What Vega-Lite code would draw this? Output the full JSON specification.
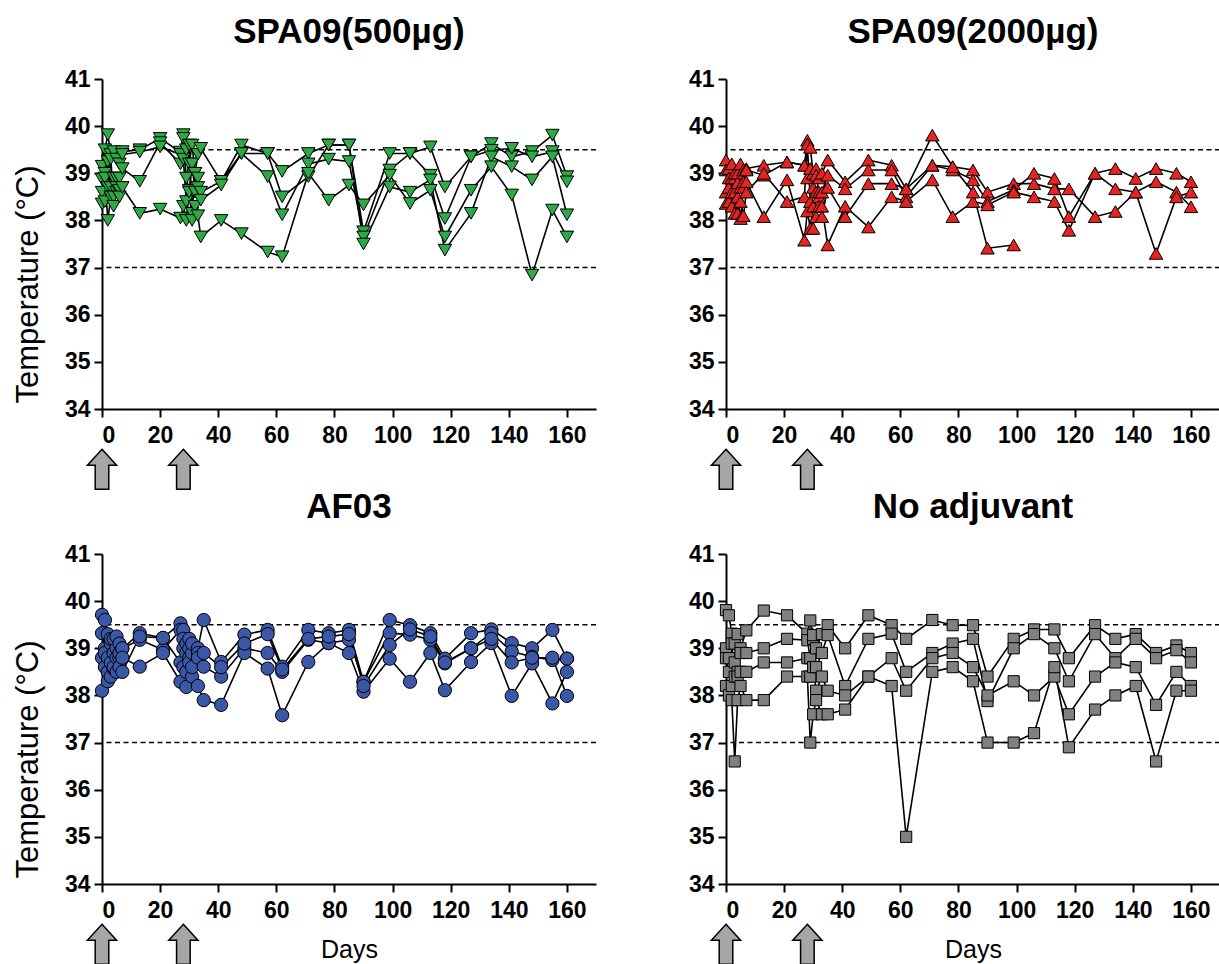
{
"$schema": "https://vega.github.io/schema/vega-lite/v6.json",
"padding": {"left": 12, "top": 15, "right": 0, "bottom": 0},
"config": {
  "font": "Liberation Sans",
  "view": {"stroke": null},
  "axis": {"grid": false, "domainColor": "black", "domainWidth": 2, "tickColor": "black", "tickWidth": 2, "tickSize": 8, "labelFont": "Liberation Sans", "labelFontWeight": "bold", "labelFontSize": 23, "labelColor": "black", "labelPadding": 4, "titleFont": "Liberation Sans", "titleFontWeight": "normal", "titleColor": "black"},
  "axisX": {"labelPadding": 7},
  "title": {"font": "Liberation Sans", "fontSize": 35, "fontWeight": "bold", "color": "black", "anchor": "middle", "frame": "group", "offset": 18}
},
"datasets": {
  "refs": [{"y": 37}, {"y": 39.5}],
  "arrows": [{"d": 0}, {"d": 28}],
  "p1": [
{"a":1,"d":0,"t":39.15},{"a":2,"d":0,"t":38.87},{"a":3,"d":0,"t":38.6},{"a":4,"d":0,"t":38.35},
{"a":1,"d":1,"t":39.5},{"a":2,"d":1,"t":39.0},{"a":3,"d":1,"t":38.4},{"a":4,"d":1,"t":38.9},
{"a":1,"d":2,"t":39.82},{"a":2,"d":2,"t":39.25},{"a":3,"d":2,"t":38.7},{"a":4,"d":2,"t":38.0},
{"a":1,"d":3,"t":39.4},{"a":2,"d":3,"t":38.7},{"a":3,"d":3,"t":39.3},{"a":4,"d":3,"t":38.5},
{"a":1,"d":4,"t":39.46},{"a":2,"d":4,"t":38.9},{"a":3,"d":4,"t":38.5},{"a":4,"d":4,"t":38.3},
{"a":1,"d":5,"t":39.3},{"a":2,"d":5,"t":38.6},{"a":3,"d":5,"t":38.9},{"a":4,"d":5,"t":38.7},
{"a":1,"d":6,"t":39.2},{"a":2,"d":6,"t":38.9},{"a":3,"d":6,"t":38.64},{"a":4,"d":6,"t":38.5},
{"a":1,"d":7,"t":39.46},{"a":2,"d":7,"t":39.1},{"a":3,"d":7,"t":39.4},{"a":4,"d":7,"t":38.7},
{"a":1,"d":13,"t":39.5},{"a":2,"d":13,"t":38.83},{"a":3,"d":13,"t":39.45},{"a":4,"d":13,"t":38.15},
{"a":1,"d":20,"t":39.74},{"a":2,"d":20,"t":39.65},{"a":3,"d":20,"t":39.56},{"a":4,"d":20,"t":38.24},
{"a":1,"d":27,"t":39.45},{"a":2,"d":27,"t":39.2},{"a":3,"d":27,"t":39.4},{"a":4,"d":27,"t":38.05},
{"a":1,"d":28,"t":39.82},{"a":2,"d":28,"t":39.74},{"a":3,"d":28,"t":39.3},{"a":4,"d":28,"t":38.3},
{"a":1,"d":29,"t":39.5},{"a":2,"d":29,"t":38.9},{"a":3,"d":29,"t":38.4},{"a":4,"d":29,"t":38.0},
{"a":1,"d":30,"t":39.2},{"a":2,"d":30,"t":38.64},{"a":3,"d":30,"t":39.6},{"a":4,"d":30,"t":38.6},
{"a":1,"d":31,"t":39.6},{"a":2,"d":31,"t":39.2},{"a":3,"d":31,"t":38.15},{"a":4,"d":31,"t":38.0},
{"a":1,"d":32,"t":39.0},{"a":2,"d":32,"t":38.6},{"a":3,"d":32,"t":39.0},{"a":4,"d":32,"t":38.3},
{"a":1,"d":33,"t":39.4},{"a":2,"d":33,"t":38.9},{"a":3,"d":33,"t":38.7},{"a":4,"d":33,"t":38.1},
{"a":1,"d":34,"t":39.53},{"a":2,"d":34,"t":38.6},{"a":3,"d":34,"t":38.43},{"a":4,"d":34,"t":37.65},
{"a":1,"d":41,"t":38.83},{"a":2,"d":41,"t":38.83},{"a":3,"d":41,"t":38.75},{"a":4,"d":41,"t":38.0},
{"a":1,"d":48,"t":39.6},{"a":2,"d":48,"t":39.42},{"a":3,"d":48,"t":39.42},{"a":4,"d":48,"t":37.72},
{"a":1,"d":57,"t":39.42},{"a":2,"d":57,"t":38.93},{"a":3,"d":57,"t":39.42},{"a":4,"d":57,"t":37.33},
{"a":1,"d":62,"t":39.04},{"a":2,"d":62,"t":38.12},{"a":3,"d":62,"t":38.5},{"a":4,"d":62,"t":37.23},
{"a":1,"d":71,"t":39.42},{"a":2,"d":71,"t":39.2},{"a":3,"d":71,"t":38.93},{"a":4,"d":71,"t":39.0},
{"a":1,"d":78,"t":39.6},{"a":2,"d":78,"t":39.3},{"a":3,"d":78,"t":39.6},{"a":4,"d":78,"t":38.43},
{"a":1,"d":85,"t":39.6},{"a":2,"d":85,"t":39.25},{"a":3,"d":85,"t":39.6},{"a":4,"d":85,"t":38.75},
{"a":1,"d":90,"t":37.76},{"a":2,"d":90,"t":37.65},{"a":3,"d":90,"t":37.5},{"a":4,"d":90,"t":38.33},
{"a":1,"d":99,"t":39.42},{"a":2,"d":99,"t":39.07},{"a":3,"d":99,"t":38.71},{"a":4,"d":99,"t":38.96},
{"a":1,"d":106,"t":39.42},{"a":2,"d":106,"t":39.42},{"a":3,"d":106,"t":38.6},{"a":4,"d":106,"t":38.36},
{"a":1,"d":113,"t":39.56},{"a":2,"d":113,"t":38.96},{"a":3,"d":113,"t":38.86},{"a":4,"d":113,"t":38.64},
{"a":1,"d":118,"t":38.71},{"a":2,"d":118,"t":38.04},{"a":3,"d":118,"t":37.37},{"a":4,"d":118,"t":37.65},
{"a":1,"d":127,"t":39.35},{"a":2,"d":127,"t":39.35},{"a":3,"d":127,"t":38.15},{"a":4,"d":127,"t":38.64},
{"a":1,"d":134,"t":39.63},{"a":2,"d":134,"t":39.49},{"a":3,"d":134,"t":39.35},{"a":4,"d":134,"t":39.14},
{"a":1,"d":141,"t":39.35},{"a":2,"d":141,"t":39.53},{"a":3,"d":141,"t":39.14},{"a":4,"d":141,"t":38.54},
{"a":1,"d":148,"t":39.46},{"a":2,"d":148,"t":39.35},{"a":3,"d":148,"t":38.86},{"a":4,"d":148,"t":36.84},
{"a":1,"d":155,"t":39.81},{"a":2,"d":155,"t":39.46},{"a":3,"d":155,"t":39.35},{"a":4,"d":155,"t":38.22},
{"a":1,"d":160,"t":38.93},{"a":2,"d":160,"t":38.82},{"a":3,"d":160,"t":38.12},{"a":4,"d":160,"t":37.65}
  ],
  "p2": [
{"a":1,"d":0,"t":39.28},{"a":2,"d":0,"t":39.07},{"a":3,"d":0,"t":38.6},{"a":4,"d":0,"t":38.36},
{"a":1,"d":1,"t":39.1},{"a":2,"d":1,"t":38.9},{"a":3,"d":1,"t":38.4},{"a":4,"d":1,"t":38.7},
{"a":1,"d":2,"t":39.2},{"a":2,"d":2,"t":38.6},{"a":3,"d":2,"t":38.9},{"a":4,"d":2,"t":38.3},
{"a":1,"d":3,"t":38.9},{"a":2,"d":3,"t":39.0},{"a":3,"d":3,"t":38.15},{"a":4,"d":3,"t":38.6},
{"a":1,"d":4,"t":39.0},{"a":2,"d":4,"t":38.8},{"a":3,"d":4,"t":38.5},{"a":4,"d":4,"t":38.15},
{"a":1,"d":5,"t":39.2},{"a":2,"d":5,"t":38.7},{"a":3,"d":5,"t":38.04},{"a":4,"d":5,"t":38.4},
{"a":1,"d":6,"t":39.07},{"a":2,"d":6,"t":38.82},{"a":3,"d":6,"t":38.7},{"a":4,"d":6,"t":38.1},
{"a":1,"d":7,"t":39.1},{"a":2,"d":7,"t":39.07},{"a":3,"d":7,"t":38.82},{"a":4,"d":7,"t":38.6},
{"a":1,"d":13,"t":39.17},{"a":2,"d":13,"t":38.96},{"a":3,"d":13,"t":38.08},{"a":4,"d":13,"t":39.0},
{"a":1,"d":21,"t":39.24},{"a":2,"d":21,"t":39.24},{"a":3,"d":21,"t":38.86},{"a":4,"d":21,"t":38.4},
{"a":1,"d":27,"t":39.17},{"a":2,"d":27,"t":39.17},{"a":3,"d":27,"t":37.58},{"a":4,"d":27,"t":38.5},
{"a":1,"d":28,"t":39.7},{"a":2,"d":28,"t":38.9},{"a":3,"d":28,"t":38.2},{"a":4,"d":28,"t":39.62},
{"a":1,"d":29,"t":39.55},{"a":2,"d":29,"t":39.1},{"a":3,"d":29,"t":37.83},{"a":4,"d":29,"t":38.4},
{"a":1,"d":30,"t":39.0},{"a":2,"d":30,"t":38.7},{"a":3,"d":30,"t":38.3},{"a":4,"d":30,"t":37.83},
{"a":1,"d":31,"t":39.1},{"a":2,"d":31,"t":38.96},{"a":3,"d":31,"t":38.08},{"a":4,"d":31,"t":38.6},
{"a":1,"d":32,"t":38.9},{"a":2,"d":32,"t":38.6},{"a":3,"d":32,"t":38.5},{"a":4,"d":32,"t":38.3},
{"a":1,"d":33,"t":39.0},{"a":2,"d":33,"t":38.6},{"a":3,"d":33,"t":38.3},{"a":4,"d":33,"t":38.08},
{"a":1,"d":35,"t":39.28},{"a":2,"d":35,"t":38.96},{"a":3,"d":35,"t":37.48},{"a":4,"d":35,"t":38.7},
{"a":1,"d":41,"t":38.82},{"a":2,"d":41,"t":38.67},{"a":3,"d":41,"t":38.3},{"a":4,"d":41,"t":38.08},
{"a":1,"d":49,"t":39.28},{"a":2,"d":49,"t":39.07},{"a":3,"d":49,"t":37.86},{"a":4,"d":49,"t":38.78},
{"a":1,"d":57,"t":39.17},{"a":2,"d":57,"t":39.07},{"a":3,"d":57,"t":38.5},{"a":4,"d":57,"t":38.78},
{"a":1,"d":62,"t":38.67},{"a":2,"d":62,"t":38.5},{"a":3,"d":62,"t":38.4},{"a":4,"d":62,"t":38.67},
{"a":1,"d":71,"t":39.81},{"a":2,"d":71,"t":39.17},{"a":3,"d":71,"t":38.86},{"a":4,"d":71,"t":39.17},
{"a":1,"d":78,"t":39.14},{"a":2,"d":78,"t":39.07},{"a":3,"d":78,"t":38.08},{"a":4,"d":78,"t":39.14},
{"a":1,"d":85,"t":39.07},{"a":2,"d":85,"t":38.86},{"a":3,"d":85,"t":38.4},{"a":4,"d":85,"t":38.6},
{"a":1,"d":90,"t":38.6},{"a":2,"d":90,"t":38.4},{"a":3,"d":90,"t":38.33},{"a":4,"d":90,"t":37.41},
{"a":1,"d":99,"t":38.78},{"a":2,"d":99,"t":38.65},{"a":3,"d":99,"t":38.6},{"a":4,"d":99,"t":37.48},
{"a":1,"d":106,"t":38.78},{"a":2,"d":106,"t":39.0},{"a":3,"d":106,"t":38.5},
{"a":1,"d":113,"t":38.67},{"a":2,"d":113,"t":38.89},{"a":3,"d":113,"t":38.4},
{"a":1,"d":118,"t":38.67},{"a":2,"d":118,"t":38.08},{"a":3,"d":118,"t":37.79},
{"a":1,"d":127,"t":38.08},{"a":2,"d":127,"t":39.0},{"a":3,"d":127,"t":39.0},
{"a":1,"d":134,"t":38.19},{"a":2,"d":134,"t":39.1},{"a":3,"d":134,"t":38.67},
{"a":1,"d":141,"t":38.6},{"a":2,"d":141,"t":38.89},{"a":3,"d":141,"t":38.6},
{"a":1,"d":148,"t":38.82},{"a":2,"d":148,"t":39.1},{"a":3,"d":148,"t":37.3},
{"a":1,"d":155,"t":38.6},{"a":2,"d":155,"t":39.0},{"a":3,"d":155,"t":38.5},
{"a":1,"d":160,"t":38.29},{"a":2,"d":160,"t":38.82},{"a":3,"d":160,"t":38.6}
  ],
  "p3": [
{"a":1,"d":0,"t":39.71},{"a":2,"d":0,"t":39.32},{"a":3,"d":0,"t":38.8},{"a":4,"d":0,"t":38.1},
{"a":1,"d":1,"t":39.6},{"a":2,"d":1,"t":39.0},{"a":3,"d":1,"t":38.6},{"a":4,"d":1,"t":38.9},
{"a":1,"d":2,"t":39.3},{"a":2,"d":2,"t":38.8},{"a":3,"d":2,"t":38.5},{"a":4,"d":2,"t":38.3},
{"a":1,"d":3,"t":39.1},{"a":2,"d":3,"t":39.2},{"a":3,"d":3,"t":38.7},{"a":4,"d":3,"t":38.4},
{"a":1,"d":4,"t":39.2},{"a":2,"d":4,"t":38.9},{"a":3,"d":4,"t":38.57},{"a":4,"d":4,"t":38.6},
{"a":1,"d":5,"t":39.0},{"a":2,"d":5,"t":39.25},{"a":3,"d":5,"t":38.8},{"a":4,"d":5,"t":38.5},
{"a":1,"d":6,"t":39.1},{"a":2,"d":6,"t":38.8},{"a":3,"d":6,"t":38.6},{"a":4,"d":6,"t":38.9},
{"a":1,"d":7,"t":38.99},{"a":2,"d":7,"t":39.0},{"a":3,"d":7,"t":38.8},{"a":4,"d":7,"t":38.5},
{"a":1,"d":13,"t":39.32},{"a":2,"d":13,"t":39.18},{"a":3,"d":13,"t":38.61},{"a":4,"d":13,"t":39.25},
{"a":1,"d":21,"t":39.22},{"a":2,"d":21,"t":38.97},{"a":3,"d":21,"t":38.9},{"a":4,"d":21,"t":39.22},
{"a":1,"d":27,"t":39.53},{"a":2,"d":27,"t":39.39},{"a":3,"d":27,"t":38.29},{"a":4,"d":27,"t":38.7},
{"a":1,"d":28,"t":39.39},{"a":2,"d":28,"t":39.2},{"a":3,"d":28,"t":38.6},{"a":4,"d":28,"t":39.0},
{"a":1,"d":29,"t":39.1},{"a":2,"d":29,"t":38.9},{"a":3,"d":29,"t":38.18},{"a":4,"d":29,"t":38.5},
{"a":1,"d":30,"t":39.2},{"a":2,"d":30,"t":38.8},{"a":3,"d":30,"t":38.7},{"a":4,"d":30,"t":39.0},
{"a":1,"d":31,"t":38.9},{"a":2,"d":31,"t":39.1},{"a":3,"d":31,"t":38.4},{"a":4,"d":31,"t":38.6},
{"a":1,"d":33,"t":39.0},{"a":2,"d":33,"t":38.9},{"a":3,"d":33,"t":38.2},{"a":4,"d":33,"t":38.8},
{"a":1,"d":35,"t":39.6},{"a":2,"d":35,"t":38.61},{"a":3,"d":35,"t":37.9},{"a":4,"d":35,"t":38.9},
{"a":1,"d":41,"t":38.71},{"a":2,"d":41,"t":38.4},{"a":3,"d":41,"t":37.8},{"a":4,"d":41,"t":38.6},
{"a":1,"d":49,"t":39.29},{"a":2,"d":49,"t":39.0},{"a":3,"d":49,"t":38.9},{"a":4,"d":49,"t":39.1},
{"a":1,"d":57,"t":39.39},{"a":2,"d":57,"t":38.9},{"a":3,"d":57,"t":38.57},{"a":4,"d":57,"t":39.3},
{"a":1,"d":62,"t":38.61},{"a":2,"d":62,"t":38.5},{"a":3,"d":62,"t":37.58},{"a":4,"d":62,"t":38.55},
{"a":1,"d":71,"t":39.39},{"a":2,"d":71,"t":39.18},{"a":3,"d":71,"t":38.71},{"a":4,"d":71,"t":39.2},
{"a":1,"d":78,"t":39.32},{"a":2,"d":78,"t":39.11},{"a":3,"d":78,"t":39.11},{"a":4,"d":78,"t":39.25},
{"a":1,"d":85,"t":39.39},{"a":2,"d":85,"t":39.18},{"a":3,"d":85,"t":38.9},{"a":4,"d":85,"t":39.3},
{"a":1,"d":90,"t":38.29},{"a":2,"d":90,"t":38.29},{"a":3,"d":90,"t":38.08},{"a":4,"d":90,"t":38.2},
{"a":1,"d":99,"t":39.6},{"a":2,"d":99,"t":39.32},{"a":3,"d":99,"t":38.78},{"a":4,"d":99,"t":39.07},
{"a":1,"d":106,"t":39.49},{"a":2,"d":106,"t":39.29},{"a":3,"d":106,"t":38.29},{"a":4,"d":106,"t":39.4},
{"a":1,"d":113,"t":39.32},{"a":2,"d":113,"t":39.18},{"a":3,"d":113,"t":38.9},{"a":4,"d":113,"t":39.25},
{"a":1,"d":118,"t":38.78},{"a":2,"d":118,"t":38.68},{"a":3,"d":118,"t":38.11},{"a":4,"d":118,"t":38.7},
{"a":1,"d":127,"t":39.32},{"a":2,"d":127,"t":39.0},{"a":3,"d":127,"t":38.71},{"a":4,"d":127,"t":39.0},
{"a":1,"d":134,"t":39.4},{"a":2,"d":134,"t":39.32},{"a":3,"d":134,"t":39.11},{"a":4,"d":134,"t":39.2},
{"a":1,"d":141,"t":39.11},{"a":2,"d":141,"t":38.93},{"a":3,"d":141,"t":37.99},{"a":4,"d":141,"t":38.7},
{"a":1,"d":148,"t":39.0},{"a":2,"d":148,"t":38.82},{"a":3,"d":148,"t":38.68},{"a":4,"d":148,"t":38.8},
{"a":1,"d":155,"t":39.39},{"a":2,"d":155,"t":38.75},{"a":3,"d":155,"t":37.83},{"a":4,"d":155,"t":38.8},
{"a":1,"d":160,"t":38.78},{"a":2,"d":160,"t":38.78},{"a":3,"d":160,"t":38.5},{"a":4,"d":160,"t":37.99}
  ],
  "p4": [
{"a":1,"d":0,"t":39.81},{"a":2,"d":0,"t":39.0},{"a":3,"d":0,"t":38.79},{"a":4,"d":0,"t":38.2},
{"a":1,"d":1,"t":39.7},{"a":2,"d":1,"t":38.79},{"a":3,"d":1,"t":38.5},{"a":4,"d":1,"t":38.0},
{"a":1,"d":2,"t":39.31},{"a":2,"d":2,"t":39.1},{"a":3,"d":2,"t":38.2},{"a":4,"d":2,"t":37.9},
{"a":1,"d":3,"t":39.1},{"a":2,"d":3,"t":38.4},{"a":3,"d":3,"t":38.7},{"a":4,"d":3,"t":36.6},
{"a":1,"d":4,"t":39.3},{"a":2,"d":4,"t":38.5},{"a":3,"d":4,"t":38.4},{"a":4,"d":4,"t":37.9},
{"a":1,"d":5,"t":39.0},{"a":2,"d":5,"t":38.9},{"a":3,"d":5,"t":38.5},{"a":4,"d":5,"t":38.2},
{"a":1,"d":7,"t":39.38},{"a":2,"d":7,"t":38.9},{"a":3,"d":7,"t":38.5},{"a":4,"d":7,"t":37.9},
{"a":1,"d":13,"t":39.8},{"a":2,"d":13,"t":39.0},{"a":3,"d":13,"t":38.7},{"a":4,"d":13,"t":37.9},
{"a":1,"d":21,"t":39.7},{"a":2,"d":21,"t":39.2},{"a":3,"d":21,"t":38.7},{"a":4,"d":21,"t":38.4},
{"a":1,"d":28,"t":39.31},{"a":2,"d":28,"t":39.17},{"a":3,"d":28,"t":38.79},{"a":4,"d":28,"t":38.4},
{"a":1,"d":29,"t":39.59},{"a":2,"d":29,"t":38.79},{"a":3,"d":29,"t":38.4},{"a":4,"d":29,"t":37.0},
{"a":1,"d":30,"t":39.2},{"a":2,"d":30,"t":39.28},{"a":3,"d":30,"t":38.6},{"a":4,"d":30,"t":37.6},
{"a":1,"d":31,"t":39.0},{"a":2,"d":31,"t":38.6},{"a":3,"d":31,"t":38.1},{"a":4,"d":31,"t":37.9},
{"a":1,"d":33,"t":39.3},{"a":2,"d":33,"t":38.9},{"a":3,"d":33,"t":38.4},{"a":4,"d":33,"t":37.6},
{"a":1,"d":35,"t":39.49},{"a":2,"d":35,"t":39.28},{"a":3,"d":35,"t":38.1},{"a":4,"d":35,"t":37.6},
{"a":1,"d":41,"t":39.0},{"a":2,"d":41,"t":38.2},{"a":3,"d":41,"t":38.0},{"a":4,"d":41,"t":37.7},
{"a":1,"d":49,"t":39.7},{"a":2,"d":49,"t":39.2},{"a":3,"d":49,"t":38.4},{"a":4,"d":49,"t":38.4},
{"a":1,"d":57,"t":39.49},{"a":2,"d":57,"t":39.31},{"a":3,"d":57,"t":38.79},{"a":4,"d":57,"t":38.2},
{"a":1,"d":62,"t":39.2},{"a":2,"d":62,"t":38.5},{"a":3,"d":62,"t":38.1},{"a":4,"d":62,"t":35.0},
{"a":1,"d":71,"t":39.6},{"a":2,"d":71,"t":38.9},{"a":3,"d":71,"t":38.79},{"a":4,"d":71,"t":38.5},
{"a":1,"d":78,"t":39.49},{"a":2,"d":78,"t":39.1},{"a":3,"d":78,"t":38.9},{"a":4,"d":78,"t":38.6},
{"a":1,"d":85,"t":39.49},{"a":2,"d":85,"t":39.2},{"a":3,"d":85,"t":38.6},{"a":4,"d":85,"t":38.3},
{"a":1,"d":90,"t":38.4},{"a":2,"d":90,"t":37.88},{"a":3,"d":90,"t":38.0},{"a":4,"d":90,"t":37.0},
{"a":1,"d":99,"t":39.2},{"a":2,"d":99,"t":39.0},{"a":3,"d":99,"t":38.3},{"a":4,"d":99,"t":37.0},
{"a":1,"d":106,"t":39.4},{"a":2,"d":106,"t":39.3},{"a":3,"d":106,"t":38.0},{"a":4,"d":106,"t":37.2},
{"a":1,"d":113,"t":39.4},{"a":2,"d":113,"t":39.0},{"a":3,"d":113,"t":38.4},{"a":4,"d":113,"t":38.6},
{"a":1,"d":118,"t":38.79},{"a":2,"d":118,"t":38.3},{"a":3,"d":118,"t":37.6},{"a":4,"d":118,"t":36.9},
{"a":1,"d":127,"t":39.49},{"a":2,"d":127,"t":39.3},{"a":3,"d":127,"t":38.4},{"a":4,"d":127,"t":37.7},
{"a":1,"d":134,"t":39.2},{"a":2,"d":134,"t":38.79},{"a":3,"d":134,"t":38.7},{"a":4,"d":134,"t":38.0},
{"a":1,"d":141,"t":39.3},{"a":2,"d":141,"t":39.2},{"a":3,"d":141,"t":38.6},{"a":4,"d":141,"t":38.2},
{"a":1,"d":148,"t":38.9},{"a":2,"d":148,"t":38.79},{"a":3,"d":148,"t":37.8},{"a":4,"d":148,"t":36.6},
{"a":1,"d":155,"t":39.06},{"a":2,"d":155,"t":38.96},{"a":3,"d":155,"t":38.5},{"a":4,"d":155,"t":38.1},
{"a":1,"d":160,"t":38.9},{"a":2,"d":160,"t":38.7},{"a":3,"d":160,"t":38.2},{"a":4,"d":160,"t":38.1}
  ]
},
"columns": 2,
"spacing": {"row": -3, "column": 91},
"concat": [
  {
    "width": 494, "height": 330,
    "title": {"text": "SPA09(500µg)"},
    "layer": [
      {"data": {"name": "refs"}, "mark": {"type": "rule", "color": "black", "strokeWidth": 1.5, "strokeDash": [5, 3.5]},
       "encoding": {"y": {"field": "y", "type": "quantitative", "scale": {"domain": [34, 41], "nice": false, "zero": false}}}},
      {"data": {"name": "p1"}, "mark": {"type": "line", "color": "black", "strokeWidth": 1.6},
       "encoding": {
         "x": {"field": "d", "type": "quantitative", "scale": {"domain": [0, 170], "nice": false}, "axis": {"values": [0, 20, 40, 60, 80, 100, 120, 140, 160], "title": null}},
         "y": {"field": "t", "type": "quantitative", "scale": {"domain": [34, 41], "nice": false, "zero": false}, "axis": {"values": [34, 35, 36, 37, 38, 39, 40, 41], "title": "Temperature (°C)", "titleFontSize": 31, "titlePadding": 20, "titleY": 205}},
         "detail": {"field": "a", "type": "nominal"}}},
      {"data": {"name": "p1"}, "mark": {"type": "point", "shape": "triangle-down", "filled": true, "fill": "#2eaa45", "stroke": "black", "strokeWidth": 1, "size": 180, "opacity": 1},
       "encoding": {
         "x": {"field": "d", "type": "quantitative"},
         "y": {"field": "t", "type": "quantitative"}}},
      {"data": {"name": "arrows"}, "mark": {"type": "point", "shape": "M0,-1L0.73,-0.2L0.34,-0.2L0.34,1L-0.34,1L-0.34,-0.2L-0.73,-0.2Z", "filled": true, "fill": "#a6a6a6", "stroke": "black", "strokeWidth": 1.5, "size": 1600, "opacity": 1},
       "encoding": {
         "x": {"field": "d", "type": "quantitative"},
         "y": {"datum": 32.72, "type": "quantitative"}}}
    ]
  },
  {
    "width": 494, "height": 330,
    "title": {"text": "SPA09(2000µg)"},
    "layer": [
      {"data": {"name": "refs"}, "mark": {"type": "rule", "color": "black", "strokeWidth": 1.5, "strokeDash": [5, 3.5]},
       "encoding": {"y": {"field": "y", "type": "quantitative", "scale": {"domain": [34, 41], "nice": false, "zero": false}}}},
      {"data": {"name": "p2"}, "mark": {"type": "line", "color": "black", "strokeWidth": 1.6},
       "encoding": {
         "x": {"field": "d", "type": "quantitative", "scale": {"domain": [0, 170], "nice": false}, "axis": {"values": [0, 20, 40, 60, 80, 100, 120, 140, 160], "title": null}},
         "y": {"field": "t", "type": "quantitative", "scale": {"domain": [34, 41], "nice": false, "zero": false}, "axis": {"values": [34, 35, 36, 37, 38, 39, 40, 41], "title": null}},
         "detail": {"field": "a", "type": "nominal"}}},
      {"data": {"name": "p2"}, "mark": {"type": "point", "shape": "triangle-up", "filled": true, "fill": "#e8231f", "stroke": "black", "strokeWidth": 1, "size": 180, "opacity": 1},
       "encoding": {
         "x": {"field": "d", "type": "quantitative"},
         "y": {"field": "t", "type": "quantitative"}}},
      {"data": {"name": "arrows"}, "mark": {"type": "point", "shape": "M0,-1L0.73,-0.2L0.34,-0.2L0.34,1L-0.34,1L-0.34,-0.2L-0.73,-0.2Z", "filled": true, "fill": "#a6a6a6", "stroke": "black", "strokeWidth": 1.5, "size": 1600, "opacity": 1},
       "encoding": {
         "x": {"field": "d", "type": "quantitative"},
         "y": {"datum": 32.72, "type": "quantitative"}}}
    ]
  },
  {
    "width": 494, "height": 330,
    "title": {"text": "AF03"},
    "layer": [
      {"data": {"name": "refs"}, "mark": {"type": "rule", "color": "black", "strokeWidth": 1.5, "strokeDash": [5, 3.5]},
       "encoding": {"y": {"field": "y", "type": "quantitative", "scale": {"domain": [34, 41], "nice": false, "zero": false}}}},
      {"data": {"name": "p3"}, "mark": {"type": "line", "color": "black", "strokeWidth": 1.6},
       "encoding": {
         "x": {"field": "d", "type": "quantitative", "scale": {"domain": [0, 170], "nice": false}, "axis": {"values": [0, 20, 40, 60, 80, 100, 120, 140, 160], "title": "Days", "titleFontSize": 25, "titlePadding": 15}},
         "y": {"field": "t", "type": "quantitative", "scale": {"domain": [34, 41], "nice": false, "zero": false}, "axis": {"values": [34, 35, 36, 37, 38, 39, 40, 41], "title": "Temperature (°C)", "titleFontSize": 31, "titlePadding": 20, "titleY": 205}},
         "detail": {"field": "a", "type": "nominal"}}},
      {"data": {"name": "p3"}, "mark": {"type": "point", "shape": "circle", "filled": true, "fill": "#3b57a8", "stroke": "black", "strokeWidth": 1, "size": 175, "opacity": 1},
       "encoding": {
         "x": {"field": "d", "type": "quantitative"},
         "y": {"field": "t", "type": "quantitative"}}},
      {"data": {"name": "arrows"}, "mark": {"type": "point", "shape": "M0,-1L0.73,-0.2L0.34,-0.2L0.34,1L-0.34,1L-0.34,-0.2L-0.73,-0.2Z", "filled": true, "fill": "#a6a6a6", "stroke": "black", "strokeWidth": 1.5, "size": 1600, "opacity": 1},
       "encoding": {
         "x": {"field": "d", "type": "quantitative"},
         "y": {"datum": 32.72, "type": "quantitative"}}}
    ]
  },
  {
    "width": 494, "height": 330,
    "title": {"text": "No adjuvant"},
    "layer": [
      {"data": {"name": "refs"}, "mark": {"type": "rule", "color": "black", "strokeWidth": 1.5, "strokeDash": [5, 3.5]},
       "encoding": {"y": {"field": "y", "type": "quantitative", "scale": {"domain": [34, 41], "nice": false, "zero": false}}}},
      {"data": {"name": "p4"}, "mark": {"type": "line", "color": "black", "strokeWidth": 1.6},
       "encoding": {
         "x": {"field": "d", "type": "quantitative", "scale": {"domain": [0, 170], "nice": false}, "axis": {"values": [0, 20, 40, 60, 80, 100, 120, 140, 160], "title": "Days", "titleFontSize": 25, "titlePadding": 15}},
         "y": {"field": "t", "type": "quantitative", "scale": {"domain": [34, 41], "nice": false, "zero": false}, "axis": {"values": [34, 35, 36, 37, 38, 39, 40, 41], "title": null}},
         "detail": {"field": "a", "type": "nominal"}}},
      {"data": {"name": "p4"}, "mark": {"type": "point", "shape": "square", "filled": true, "fill": "#808080", "stroke": "black", "strokeWidth": 1, "size": 125, "opacity": 1},
       "encoding": {
         "x": {"field": "d", "type": "quantitative"},
         "y": {"field": "t", "type": "quantitative"}}},
      {"data": {"name": "arrows"}, "mark": {"type": "point", "shape": "M0,-1L0.73,-0.2L0.34,-0.2L0.34,1L-0.34,1L-0.34,-0.2L-0.73,-0.2Z", "filled": true, "fill": "#a6a6a6", "stroke": "black", "strokeWidth": 1.5, "size": 1600, "opacity": 1},
       "encoding": {
         "x": {"field": "d", "type": "quantitative"},
         "y": {"datum": 32.72, "type": "quantitative"}}}
    ]
  }
]
}
